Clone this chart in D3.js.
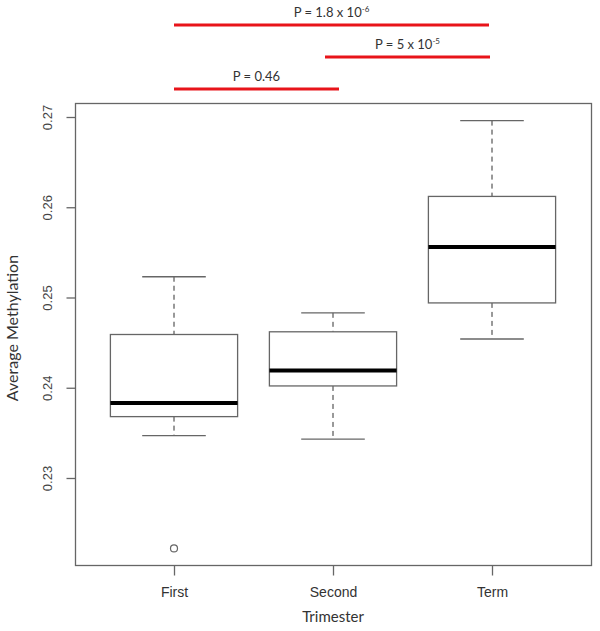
<!DOCTYPE html>
<html>
<head>
<meta charset="utf-8">
<script src="https://cdn.jsdelivr.net/npm/d3@7"></script>
<style>
  body { margin: 0; background: #fff; }
  svg { display: block; }
</style>
</head>
<body>
<div id="chart"></div>
<script>
// box stats
const groups = ["First", "Second", "Term"];
const lowerWhisker = [0.2347, 0.2343, 0.2454];
const q1 = [0.2368, 0.2402, 0.2494];
const median = [0.2383, 0.2419, 0.2556];
const q3 = [0.2459, 0.2462, 0.2612];
const upperWhisker = [0.2523, 0.2483, 0.2696];
const outliers = [{ group: "First", value: 0.2222 }];
const yTicks = [0.23, 0.24, 0.25, 0.26, 0.27];

// significance bars
const pBars = [
	{ from: "First", to: "Term", label: ["P = 1.8 x 10", "-6"] },
	{ from: "Second", to: "Term", label: ["P = 5 x 10", "-5"] },
	{ from: "First", to: "Second", label: ["P = 0.46", null] },
];

const width = 600;
const height = 631;
const frame = { left: 75.5, right: 591.5, top: 103.5, bottom: 565.5 };

const svg = d3.select("#chart")
	.append("svg")
	.attr("width", width)
	.attr("height", height);

// R style: 4% padding on data range
const allVals = upperWhisker.concat(lowerWhisker, outliers.map(d => d.value));
const lo = d3.min(allVals), hi = d3.max(allVals);
const pad = (hi - lo) * 0.04;
const y = d3.scaleLinear()
	.domain([lo - pad, hi + pad])
	.range([frame.bottom, frame.top]);

const x = d3.scalePoint()
	.domain(groups)
	.range([174, 492]);
const step = x.step();
const boxW = step * 0.8;

const gray = "#666";

// frame
svg.append("rect")
	.attr("x", frame.left)
	.attr("y", frame.top)
	.attr("width", frame.right - frame.left)
	.attr("height", frame.bottom - frame.top)
	.attr("fill", "none")
	.attr("stroke", gray)
	.attr("stroke-width", 1.3);

// y axis
const yAxis = svg.append("g")
	.attr("transform", `translate(${frame.left}, 0)`)
	.call(d3.axisLeft(y).tickValues(yTicks).tickSize(9).tickFormat(d3.format(".2f")));
yAxis.select(".domain").remove();
yAxis.selectAll(".tick line").attr("stroke", gray).attr("stroke-width", 1.3);
yAxis.selectAll(".tick text")
	.attr("x", 0).attr("dy", 0)
	.attr("transform", "translate(-28, 0) rotate(-90)")
	.attr("text-anchor", "middle")
	.attr("dominant-baseline", "central")
	.attr("fill", "#444")
	.style("font-family", "'Liberation Sans', Arial, sans-serif")
	.style("font-size", "13px");

// x axis
const xAxis = svg.append("g")
	.attr("transform", `translate(0, ${frame.bottom})`)
	.call(d3.axisBottom(x).tickSize(10).tickPadding(12));
xAxis.select(".domain").remove();
xAxis.selectAll(".tick line").attr("stroke", gray).attr("stroke-width", 1.3);
xAxis.selectAll(".tick text")
	.attr("fill", "#333")
	.style("font-family", "'Liberation Sans', Arial, sans-serif")
	.style("font-size", "14px");

// axis titles
svg.append("text")
	.attr("x", 333)
	.attr("y", 622)
	.attr("text-anchor", "middle")
	.attr("fill", "#333")
	.style("font-family", "Lato, 'Open Sans', sans-serif")
	.style("font-size", "15px")
	.text("Trimester");

svg.append("text")
	.attr("transform", "translate(18, 328) rotate(-90)")
	.attr("text-anchor", "middle")
	.attr("fill", "#333")
	.style("font-family", "Lato, 'Open Sans', sans-serif")
	.style("font-size", "16px")
	.text("Average Methylation");

// boxes
const boxes = svg.append("g")
	.selectAll("g")
	.data(groups)
	.join("g");

boxes.append("line")
	.attr("x1", d => x(d)).attr("x2", d => x(d))
	.attr("y1", (d, i) => y(upperWhisker[i]))
	.attr("y2", (d, i) => y(q3[i]))
	.attr("stroke", "#333")
	.attr("stroke-dasharray", "5,4");
boxes.append("line")
	.attr("x1", d => x(d)).attr("x2", d => x(d))
	.attr("y1", (d, i) => y(q1[i]))
	.attr("y2", (d, i) => y(lowerWhisker[i]))
	.attr("stroke", "#333")
	.attr("stroke-dasharray", "5,4");

for (const arr of [upperWhisker, lowerWhisker]) {
	boxes.append("line")
		.attr("x1", d => x(d) - boxW / 4).attr("x2", d => x(d) + boxW / 4)
		.attr("y1", (d, i) => y(arr[i]))
		.attr("y2", (d, i) => y(arr[i]))
		.attr("stroke", gray)
		.attr("stroke-width", 1.3);
}

boxes.append("rect")
	.attr("x", d => x(d) - boxW / 2)
	.attr("width", boxW)
	.attr("y", (d, i) => y(q3[i]))
	.attr("height", (d, i) => y(q1[i]) - y(q3[i]))
	.attr("fill", "#fff")
	.attr("stroke", gray)
	.attr("stroke-width", 1.3);

boxes.append("line")
	.attr("x1", d => x(d) - boxW / 2).attr("x2", d => x(d) + boxW / 2)
	.attr("y1", (d, i) => y(median[i]))
	.attr("y2", (d, i) => y(median[i]))
	.attr("stroke", "#000")
	.attr("stroke-width", 4);

svg.append("g")
	.selectAll("circle")
	.data(outliers)
	.join("circle")
	.attr("cx", d => x(d.group))
	.attr("cy", d => y(d.value))
	.attr("r", 3.5)
	.attr("fill", "none")
	.attr("stroke", gray)
	.attr("stroke-width", 1.2);

// significance bars above the plot
const barY = d3.scalePoint()
	.domain(d3.range(pBars.length))
	.range([25, 89]);
const nudge = { "First-Term": [0, -3], "Second-Term": [-8, -2], "First-Second": [0, 6] };

const bars = svg.append("g")
	.selectAll("g")
	.data(pBars)
	.join("g");

bars.append("line")
	.attr("x1", d => x(d.from) + nudge[`${d.from}-${d.to}`][0])
	.attr("x2", d => x(d.to) + nudge[`${d.from}-${d.to}`][1])
	.attr("y1", (d, i) => barY(i))
	.attr("y2", (d, i) => barY(i))
	.attr("stroke", "#e8141a")
	.attr("stroke-width", 3);

const labels = bars.append("text")
	.attr("x", d => (x(d.from) + nudge[`${d.from}-${d.to}`][0] + x(d.to) + nudge[`${d.from}-${d.to}`][1]) / 2)
	.attr("y", (d, i) => barY(i) - 8)
	.attr("text-anchor", "middle")
	.attr("fill", "#333")
	.style("font-family", "Lato, 'Open Sans', sans-serif")
	.style("font-size", "13px");
labels.append("tspan").text(d => d.label[0]);
labels.filter(d => d.label[1])
	.append("tspan")
	.attr("dy", -5)
	.style("font-size", "8px")
	.text(d => d.label[1]);
</script>
</body>
</html>
